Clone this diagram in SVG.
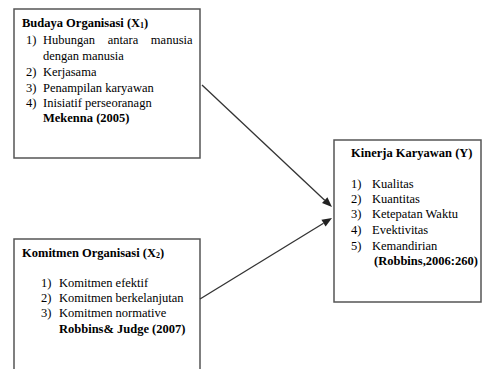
<svg xmlns="http://www.w3.org/2000/svg" width="482" height="369" viewBox="0 0 482 369">
<rect width="482" height="369" fill="#fff"/>
<g font-family="Liberation Serif" font-size="12.5">
<g id="budaya">
<rect x="14" y="9" width="186" height="149" fill="none" stroke="#555" stroke-width="1.5"/>
<text font-weight="bold" x="22" y="27">Budaya Organisasi (X<tspan font-size="8" dy="1">1</tspan><tspan dy="-1">)</tspan></text>
<text x="26" y="44">1)</text>
<text x="43" y="44" word-spacing="9.5">Hubungan antara manusia</text>
<text x="43" y="60">dengan manusia</text>
<text x="26" y="76">2)</text><text x="43" y="76">Kerjasama</text>
<text x="26" y="92">3)</text><text x="43" y="92">Penampilan karyawan</text>
<text x="26" y="107">4)</text><text x="43" y="107">Inisiatif perseoranagn</text>
<text font-weight="bold" x="43" y="122">Mekenna (2005)</text>
</g>
<g id="komitmen">
<rect x="14" y="239" width="186" height="140" fill="none" stroke="#555" stroke-width="1.5"/>
<text font-weight="bold" x="22" y="257">Komitmen Organisasi  (X<tspan font-size="8" dy="1">2</tspan><tspan dy="-1">)</tspan></text>
<text x="41" y="287">1)</text><text x="59" y="287">Komitmen efektif</text>
<text x="41" y="302">2)</text><text x="59" y="302">Komitmen berkelanjutan</text>
<text x="41" y="317">3)</text><text x="59" y="317">Komitmen normative</text>
<text font-weight="bold" x="59" y="333">Robbins&amp; Judge (2007)</text>
</g>
<g id="kinerja">
<rect x="334" y="140" width="147" height="162" fill="none" stroke="#555" stroke-width="1.5"/>
<text font-weight="bold" x="351" y="157">Kinerja Karyawan (Y)</text>
<text x="351" y="188">1)</text><text x="372" y="188">Kualitas</text>
<text x="351" y="203">2)</text><text x="372" y="203">Kuantitas</text>
<text x="351" y="218">3)</text><text x="372" y="218">Ketepatan Waktu</text>
<text x="351" y="234">4)</text><text x="372" y="234">Evektivitas</text>
<text x="351" y="250">5)</text><text x="372" y="250">Kemandirian</text>
<text font-weight="bold" x="374" y="265">(Robbins,2006:260)</text>
</g>
</g>
<g id="connectors" stroke="#333" stroke-width="1.3">
<line x1="202" y1="85" x2="324.7" y2="200.2"/>
<polygon points="332,207 322,203.1 327.4,197.3" fill="#222" stroke="none"/>
<line x1="200" y1="299" x2="323.5" y2="223.2"/>
<polygon points="332,218 325.6,226.6 321.4,219.8" fill="#222" stroke="none"/>
</g>
</svg>
